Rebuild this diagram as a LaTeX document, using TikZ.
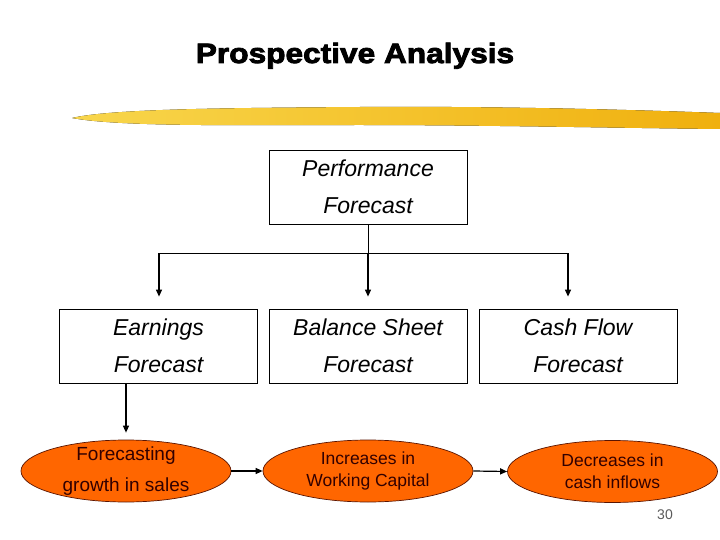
\documentclass[tikz,border=0pt]{standalone}
\usepackage{fontspec}
\setmainfont{Liberation Sans}
\newfontfamily\titlefont[BoldFeatures={FakeBold=3,FakeStretch=1.13}]{Liberation Sans}
\usetikzlibrary{arrows.meta,shapes.geometric}
\definecolor{ovalOrange}{RGB}{255,102,0}
\definecolor{ovalEdge}{RGB}{90,20,0}
\definecolor{ovalText}{RGB}{50,0,0}
\definecolor{brushLight}{RGB}{248,214,76}
\definecolor{brushDeep}{RGB}{240,176,14}
\definecolor{pageGray}{RGB}{90,90,90}

\begin{document}
\begin{tikzpicture}[x=1pt,y=-1pt,
 fcbox/.style={draw,line width=.8pt,minimum width=198pt,minimum height=74pt,inner sep=0pt,align=center,font=\fontsize{23}{37}\selectfont\itshape},
 oval/.style={ellipse,draw=ovalEdge,line width=.7pt,fill=ovalOrange,minimum width=210pt,minimum height=62pt,inner sep=0pt},
 ovaltxt/.style={align=center,text=ovalText,inner sep=0pt,font=\fontsize{17.5}{22}\selectfont},
 link/.style={line width=.9pt},
 arr/.style={-{Triangle[length=7pt,width=6pt]},line width=1.2pt}]
\path[use as bounding box] (0,0) rectangle (720,540);
\node[font=\titlefont\bfseries\fontsize{28}{32}\selectfont,anchor=base] (title) at (355,63) {Prospective Analysis};
\fill[left color=brushLight,right color=brushDeep] (72,118) .. controls (110,109) and (220,108) .. (360,107)
 .. controls (500,106) and (640,110) .. (720,113) -- (720,129) .. controls (620,128) and (480,125) .. (360,125)
 .. controls (240,125) and (120,127) .. (72,118) -- cycle;
\node[fcbox] (perf) at (368,187) {Performance\\Forecast};
\node[fcbox] (earn) at (158.5,346) {Earnings\\Forecast};
\node[fcbox] (bal) at (368,346) {Balance Sheet\\Forecast};
\node[fcbox] (cash) at (578,346) {Cash Flow\\Forecast};
\node[oval,label={[ovaltxt,font=\fontsize{19}{31}\selectfont]center:Forecasting\\growth in sales}] (grow) at (126,471) {};
\node[oval,label={[ovaltxt]center:Increases in\\Working Capital}] (wcap) at (368,471) {};
\node[oval,label={[ovaltxt]center:Decreases in\\cash inflows}] (cin) at (612.5,471.5) {};
\node[text=pageGray,font=\fontsize{14}{16}\selectfont,anchor=base] (pnum) at (665,519) {30};
\coordinate (hub) at (368,253);
\coordinate (left) at (159,253);
\coordinate (right) at (568,253);
\draw[link] (perf.south) -- (hub);
\draw[link] (left) -- (right);
\draw[arr,shorten >=12pt] (left) -- (left |- earn.north);
\draw[arr,shorten >=12pt] (hub) -- (bal.north);
\draw[arr,shorten >=12pt] (right) -- (right |- cash.north);
\draw[arr,shorten >=7pt] (earn.south -| grow.north) -- (grow.north);
\draw[arr] (grow.east) -- (wcap.west);
\draw[arr] (wcap.east) -- (cin.west);
\end{tikzpicture}
\end{document}
